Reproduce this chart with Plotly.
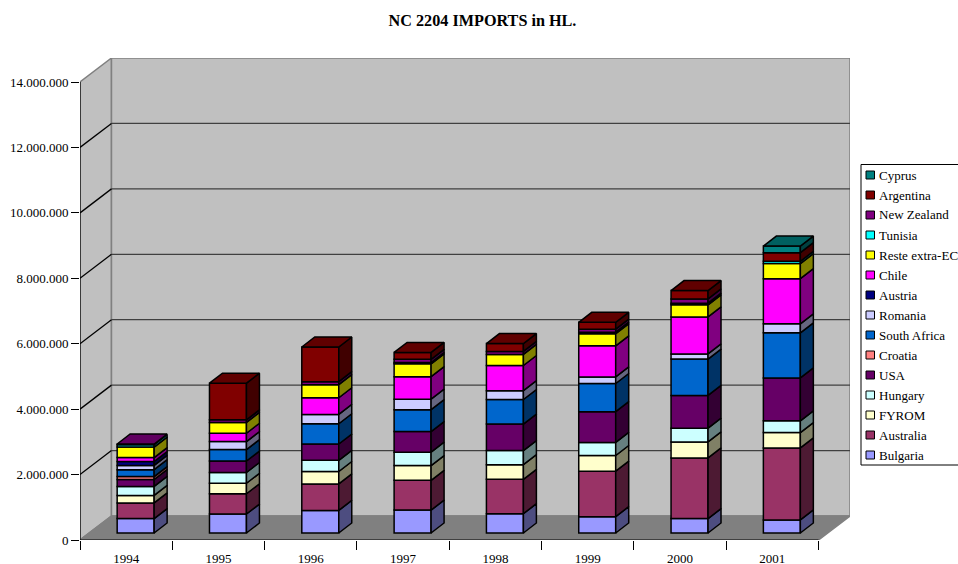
import plotly.graph_objects as go

years = ["1994", "1995", "1996", "1997", "1998", "1999", "2000", "2001"]
y_ticks = [0, 2000000, 4000000, 6000000, 8000000, 10000000, 12000000, 14000000]
y_labels = ["0", "2.000.000", "4.000.000", "6.000.000", "8.000.000", "10.000.000", "12.000.000", "14.000.000"]

bulgaria = [440000, 580000, 690000, 700000, 590000, 500000, 440000, 400000]
australia = [480000, 620000, 810000, 910000, 1050000, 1390000, 1855000, 2200000]
fyrom = [230000, 320000, 380000, 450000, 450000, 480000, 490000, 470000]
hungary = [275000, 330000, 340000, 410000, 430000, 400000, 420000, 360000]
usa = [210000, 350000, 500000, 630000, 810000, 940000, 1000000, 1310000]
croatia = [90000, 0, 0, 0, 0, 0, 0, 0]
south_africa = [210000, 350000, 620000, 670000, 750000, 860000, 1110000, 1380000]
romania = [130000, 245000, 285000, 320000, 270000, 200000, 160000, 275000]
austria = [120000, 0, 0, 0, 0, 0, 0, 0]
chile = [120000, 255000, 510000, 690000, 770000, 950000, 1130000, 1380000]
reste = [320000, 330000, 400000, 390000, 340000, 370000, 370000, 460000]
tunisia = [75000, 0, 0, 40000, 0, 50000, 50000, 70000]
new_zealand = [20000, 80000, 90000, 100000, 90000, 90000, 130000, 0]
argentina = [0, 1120000, 1060000, 210000, 240000, 210000, 255000, 265000]
cyprus = [0, 0, 0, 0, 0, 0, 0, 200000]

series = [
    ("Bulgaria", bulgaria, "#9999FF", "#4D4D80"),
    ("Australia", australia, "#993366", "#4D1A33"),
    ("FYROM", fyrom, "#FFFFCC", "#808066"),
    ("Hungary", hungary, "#CCFFFF", "#668080"),
    ("USA", usa, "#660066", "#330033"),
    ("Croatia", croatia, "#FF8080", "#804040"),
    ("South Africa", south_africa, "#0066CC", "#003366"),
    ("Romania", romania, "#CCCCFF", "#666680"),
    ("Austria", austria, "#000080", "#000040"),
    ("Chile", chile, "#FF00FF", "#800080"),
    ("Reste extra-EC", reste, "#FFFF00", "#808000"),
    ("Tunisia", tunisia, "#00FFFF", "#008080"),
    ("New Zealand", new_zealand, "#800080", "#400040"),
    ("Argentina", argentina, "#800000", "#400000"),
    ("Cyprus", cyprus, "#008080", "#004040"),
]

W, H = 958, 564
L, R, T, B = 80, 850, 58, 540          # plot box in pixels
CAT_PX = (819 - 80) / 8                # pixels per category
VAL_PX = (540 - 82) / 14000000         # pixels per hl
WALL_DX, WALL_DY = 31.5 / CAT_PX, 24 / VAL_PX   # perspective of the walls
BAR_DX, BAR_DY = 13 / CAT_PX, 10 / VAL_PX       # depth of one bar
SHIFT_X, SHIFT_Y = 9.5 / CAT_PX, 7 / VAL_PX     # bar position on the floor
BAR_W = 37 / CAT_PX
X0, X1, YMAX = -0.5, 7.5, 14000000
EDGE = 1.5


def shade(hex_col, factor):
    r, g, b = (int(hex_col[k:k + 2], 16) for k in (1, 3, 5))
    return f"rgb({r * factor:.0f},{g * factor:.0f},{b * factor:.0f})"


fig = go.Figure()
cum = [0] * len(years)
top_index = {}
faces = []
for s_i, (name, vals, col, dark) in enumerate(series):
    xs, ys, base, cats, hs = [], [], [], [], []
    for i, v in enumerate(vals):
        if v <= 0:
            continue
        b = cum[i] + SHIFT_Y
        t = b + v
        xr = i + SHIFT_X + BAR_W / 2
        xs += [xr, xr + BAR_DX, xr + BAR_DX, xr, xr, None]
        ys += [b, b + BAR_DY, t + BAR_DY, t, b, None]
        cats.append(i + SHIFT_X)
        hs.append(v)
        base.append(b)
        cum[i] += v
        top_index[i] = s_i
    fig.add_trace(go.Bar(x=cats, y=hs, base=base, width=BAR_W, name=name, showlegend=False,
                         marker=dict(color=col, line=dict(color="black", width=EDGE))))
    faces.append(go.Scatter(x=xs, y=ys, mode="lines", fill="toself", fillcolor=dark, showlegend=False,
                            line=dict(color="black", width=EDGE), hoverinfo="skip"))
for f in faces:
    fig.add_trace(f)

# top faces of the stacks
for i, s_i in top_index.items():
    t = cum[i] + SHIFT_Y
    xl = i + SHIFT_X - BAR_W / 2
    xr = i + SHIFT_X + BAR_W / 2
    fig.add_trace(go.Scatter(
        x=[xl, xr, xr + BAR_DX, xl + BAR_DX, xl],
        y=[t, t, t + BAR_DY, t + BAR_DY, t],
        mode="lines", fill="toself", fillcolor=shade(series[s_i][2], 0.75), showlegend=False,
        line=dict(color="black", width=EDGE), hoverinfo="skip"))

shapes = []
def poly(xs, ys, fill):
    p = "M " + " L ".join(f"{a},{b}" for a, b in zip(xs, ys)) + " Z"
    shapes.append(dict(type="path", path=p, xref="x", yref="y", fillcolor=fill, layer="below",
                       line=dict(color="#808080", width=1.5)))
def seg(x0, y0, x1, y1, col, w=1.3, layer="below"):
    shapes.append(dict(type="line", x0=x0, y0=y0, x1=x1, y1=y1, xref="x", yref="y", layer=layer,
                       line=dict(color=col, width=w)))

poly([X0, X0 + WALL_DX, X0 + WALL_DX, X0], [0, WALL_DY, YMAX + WALL_DY, YMAX], "#C0C0C0")
poly([X0 + WALL_DX, X1 + WALL_DX, X1 + WALL_DX, X0 + WALL_DX],
     [WALL_DY, WALL_DY, YMAX + WALL_DY, YMAX + WALL_DY], "#C0C0C0")
poly([X0, X1, X1 + WALL_DX, X0 + WALL_DX], [0, 0, WALL_DY, WALL_DY], "#808080")
for v in y_ticks[1:-1]:
    seg(X0 + WALL_DX, v + WALL_DY, X1 + WALL_DX, v + WALL_DY, "#404040")
    seg(X0, v, X0 + WALL_DX, v + WALL_DY, "black")
seg(X0, 0, X0, YMAX, "black", 1.2, "above")
seg(X0, 0, X1, 0, "black", 1.2, "above")

# legend panel, built with paper coordinates
def px(x):
    return (x - L) / (R - L)
def py(y):
    return (B - y) / (B - T)

annotations = []
shapes.append(dict(type="rect", xref="paper", yref="paper", x0=px(861), x1=px(975), y0=py(164.5), y1=py(465),
                   fillcolor="white", line=dict(color="black", width=1)))
for k, (name, vals, col, dark) in enumerate(reversed(series)):
    yc = 175 + 20 * k
    shapes.append(dict(type="rect", xref="paper", yref="paper", x0=px(866), x1=px(874.5),
                       y0=py(yc - 4), y1=py(yc + 4), fillcolor=col, line=dict(color="black", width=1)))
    annotations.append(dict(text=name, xref="paper", yref="paper", x=px(878), y=py(yc), xanchor="left",
                            yanchor="middle", showarrow=False, xshift=-1,
                            font=dict(family="Liberation Serif", size=13, color="black")))

fig.update_layout(
    width=W, height=H, autosize=False,
    margin=dict(l=L, r=W - R, t=T, b=H - B),
    paper_bgcolor="white", plot_bgcolor="rgba(0,0,0,0)",
    font=dict(family="Liberation Serif", size=13, color="black"),
    title=dict(text="<b>NC 2204 IMPORTS in HL.</b>", x=482.5 / W, y=1 - 20 / H, xanchor="center", yanchor="middle",
               font=dict(family="Liberation Serif", size=16.2, color="black")),
    barmode="overlay", showlegend=False, shapes=shapes, annotations=annotations, hovermode=False,
    xaxis=dict(range=[X0, X1 + WALL_DX], tickmode="array", tickvals=list(range(8)), ticktext=years,
               ticks="outside", ticklen=6, tickcolor="rgba(0,0,0,0)", showgrid=False, zeroline=False,
               showline=False, automargin=False,
               minor=dict(tickmode="array", tickvals=[X0 + i for i in range(9)], ticks="outside", ticklen=9,
                          tickcolor="black", tickwidth=1, showgrid=False)),
    yaxis=dict(range=[0, YMAX + WALL_DY], tickmode="array", tickvals=y_ticks, ticktext=y_labels,
               ticks="outside", ticklen=8, tickcolor="black", tickwidth=1, showgrid=False, zeroline=False,
               showline=False, automargin=False),
)

fig.write_html("out.html", config=dict(displayModeBar=False),
               post_script="document.body.style.margin='0';document.body.style.overflow='hidden';")
